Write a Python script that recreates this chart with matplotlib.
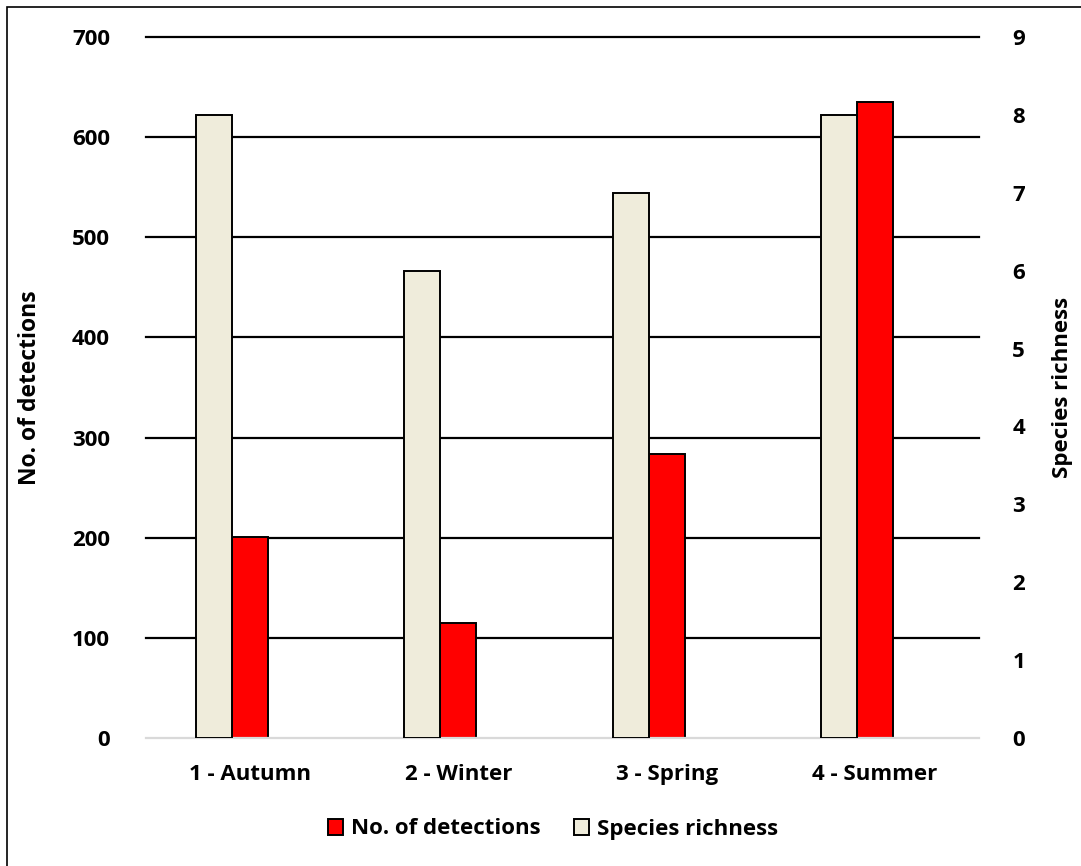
import numpy as np
import matplotlib
matplotlib.use("Agg")
from matplotlib import pyplot as plt
from matplotlib.patches import Rectangle, Patch

plt.rcParams['font.family'] = ['Open Sans', 'DejaVu Sans']
plt.rcParams['font.weight'] = 'bold'

# data
seasons = ['1 - Autumn', '2 - Winter', '3 - Spring', '4 - Summer']
detections = [201, 115, 284, 635]
richness = [8, 6, 7, 8]

rot = '#FF0000'
beige = '#EFECDB'
breite = 0.173

fig = plt.figure(figsize=(10.81, 8.66), dpi=100)
ax = fig.add_axes([146/1081, 1 - 738/866, 833/1081, 701/866])
ax2 = ax.twinx()

x = np.arange(len(seasons))

# red bars sit on the category centre, beige bars just left of them
ax.bar(x, detections, width=breite, color=rot, edgecolor='black',
       linewidth=1.4, zorder=3)
ax2.bar(x - breite, richness, width=breite, color=beige, edgecolor='black',
        linewidth=1.4, zorder=3)

ax.set_xlim(-0.5, 3.5)
ax.set_ylim(0, 700)
ax2.set_ylim(0, 9)
ax.set_yticks(np.arange(0, 701, 100))
ax2.set_yticks(np.arange(0, 10, 1))

ax.yaxis.grid(True, color='black', linewidth=1.6, zorder=0)
ax.set_axisbelow(True)
for s in ['top', 'left', 'right']:
    ax.spines[s].set_visible(False)
    ax2.spines[s].set_visible(False)
ax.spines['bottom'].set_color('#d9d9d9')
ax.spines['bottom'].set_linewidth(1.6)
ax.spines['bottom'].set_zorder(4)
ax2.spines['bottom'].set_visible(False)
gl = ax.yaxis.get_gridlines()
for g in gl:
    g.set_clip_on(False)
# grid line at 0 is the grey axis line
gl[0].set_visible(False)

ax.set_xticks(x)
ax.set_xticklabels(seasons)
ax.tick_params(axis='both', length=0, labelsize=16)
ax.tick_params(axis='y', pad=26)
ax.tick_params(axis='x', pad=19)
ax2.tick_params(axis='y', length=0, labelsize=16, pad=24)
for t in ax.get_xticklabels() + ax.get_yticklabels() + ax2.get_yticklabels():
    t.set_fontweight('bold')

ax.set_ylabel('No. of detections', fontsize=16.5, fontweight='bold')
ax2.set_ylabel('Species richness', fontsize=16, fontweight='bold', rotation=90)
ax.yaxis.set_label_coords((42 - 146) / 833, 0.5)
ax2.yaxis.set_label_coords((1052 - 146) / 833, 0.5)

handles = [Patch(facecolor=rot, edgecolor='black', linewidth=1.4, label='No. of detections'),
           Patch(facecolor=beige, edgecolor='black', linewidth=1.4, label='Species richness')]
fig.legend(handles=handles, loc='center', bbox_to_anchor=(553/1081, 1 - 829/866),
           ncol=2, frameon=False, prop={'size': 16, 'weight': 'bold'},
           handlelength=0.7, handleheight=0.7,
           handletextpad=0.35, columnspacing=1.5)

# outer frame, cut off at the right and bottom like the original
fig.patches.append(Rectangle((7/1081, -0.05), 1.1, 1 - 7/866 + 0.05,
                             transform=fig.transFigure, fill=False,
                             edgecolor='black', linewidth=1.2))

fig.savefig('out.png', dpi=100)
